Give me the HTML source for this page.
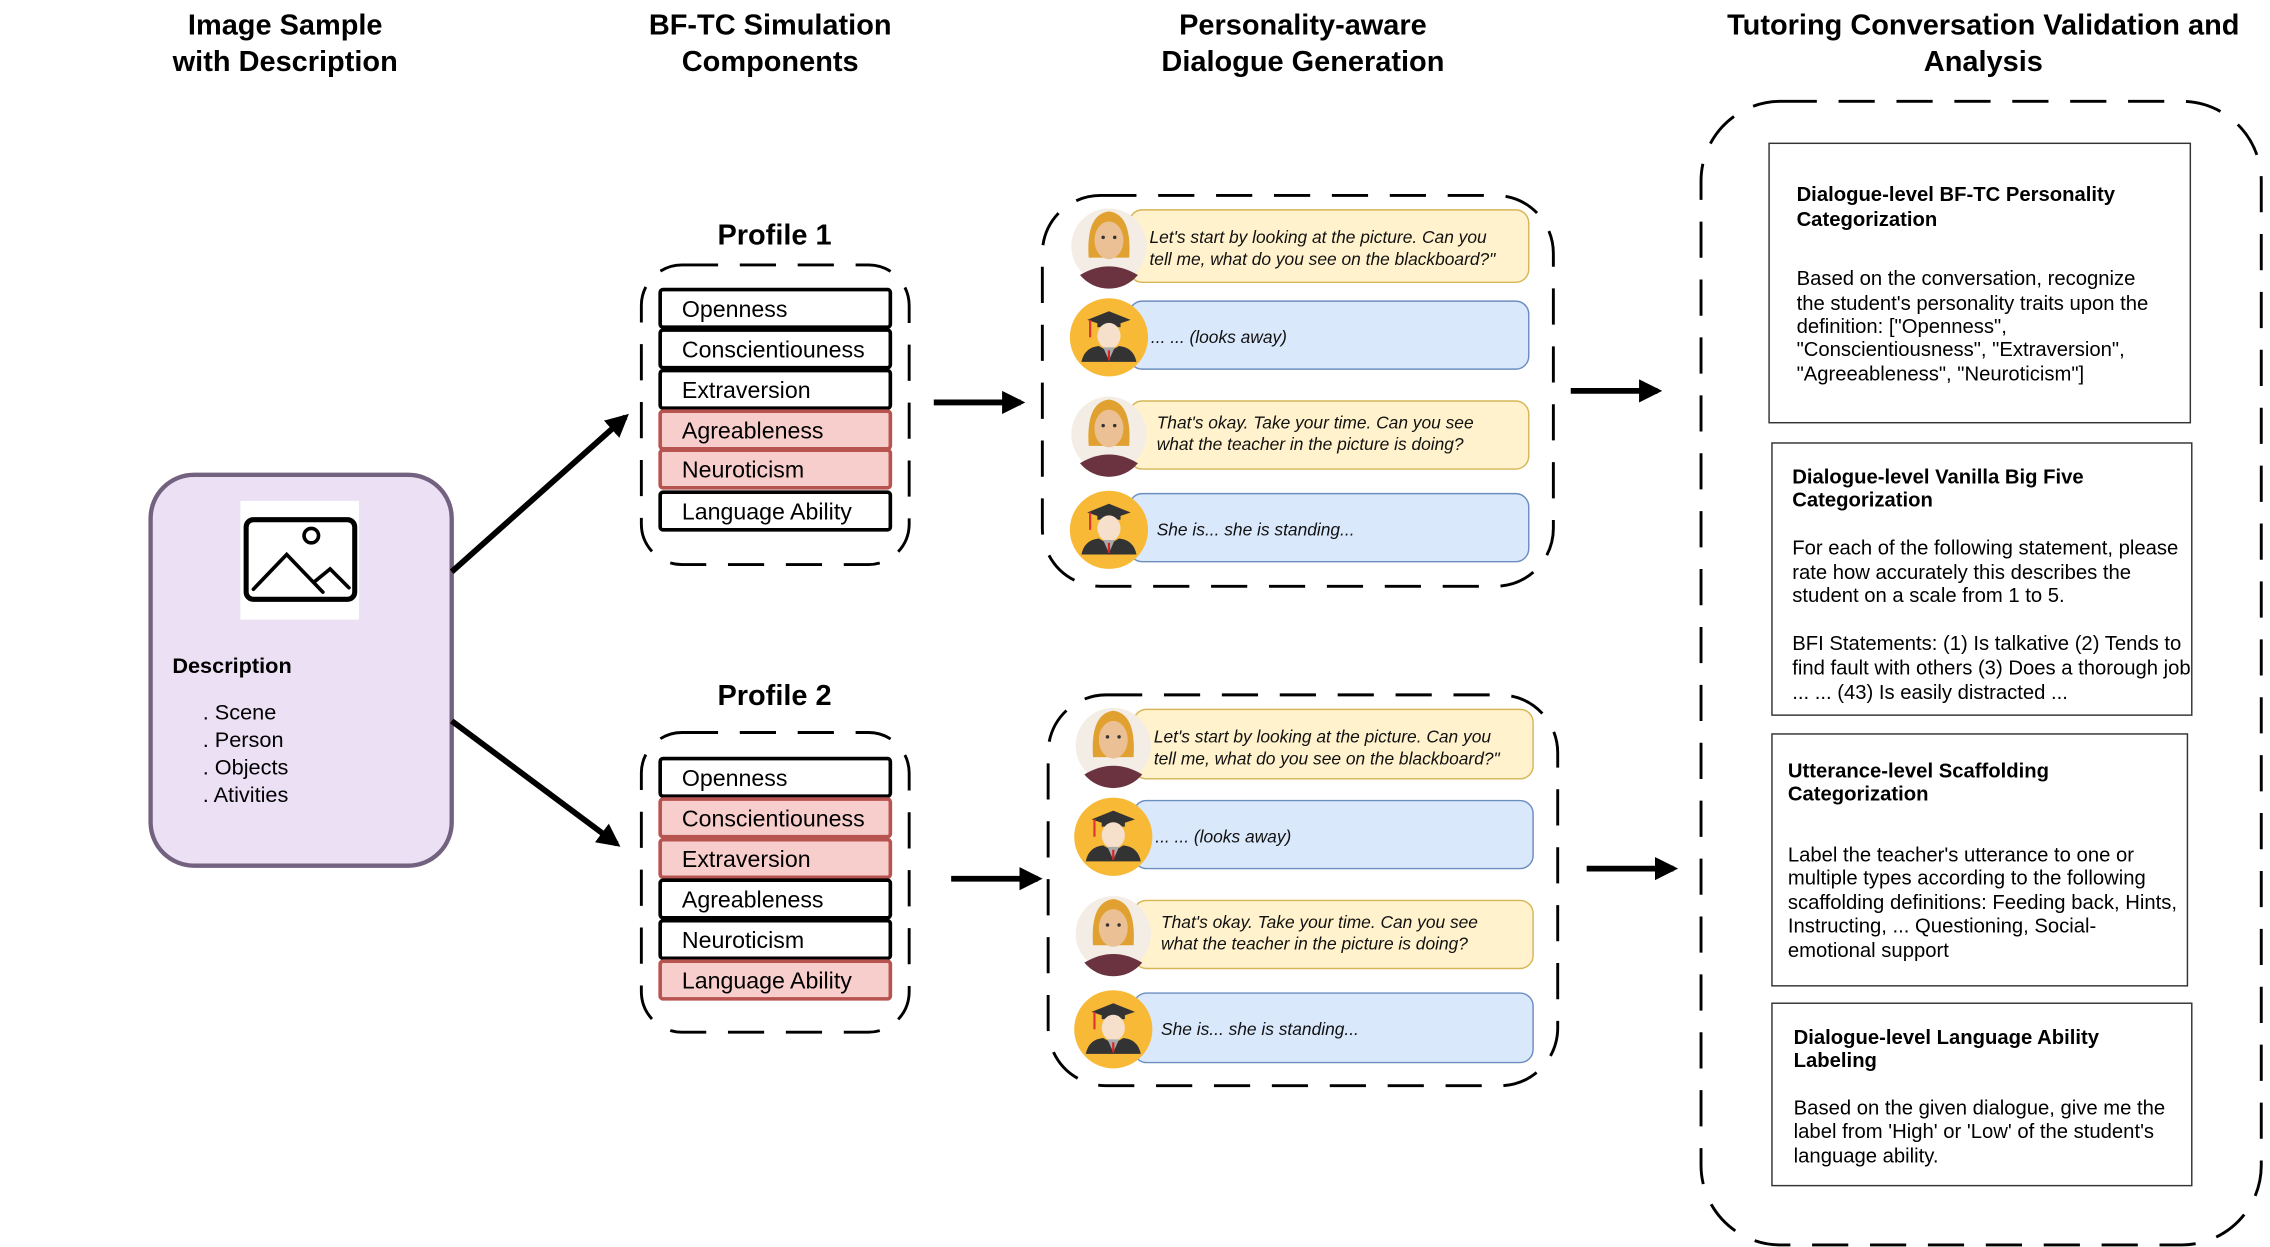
<!DOCTYPE html>
<html><head><meta charset="utf-8"><style>
html,body{margin:0;padding:0;background:#fff;}
svg{display:block;}
text{font-family:"Liberation Sans",Arial,sans-serif;fill:#000;}
.t{font-size:20px;font-weight:bold;text-anchor:middle;}
.row{font-size:16px;}
.d{font-size:12px;font-style:italic;fill:#111;}
.pt{font-size:14px;font-weight:bold;}
.pb{font-size:14px;}
</style></head><body>
<svg width="2270" height="1247" viewBox="0 0 1568 861.4" xmlns="http://www.w3.org/2000/svg">
<defs>
<marker id="ah" viewBox="0 0 10 10" refX="8" refY="5" markerWidth="4" markerHeight="4" orient="auto"><path d="M0,0 L10,5 L0,10 z" fill="#000"/></marker>
<g id="teacher">
<circle cx="0" cy="0" r="26" fill="#f3ede5"/>
<path d="M-14,8 Q-16,-22 0,-24 Q16,-22 14,8 Z" fill="#e0a130"/>
<ellipse cx="0" cy="-4" rx="10" ry="13" fill="#ecc095"/>
<circle cx="-4" cy="-6" r="1.2" fill="#333"/><circle cx="4" cy="-6" r="1.2" fill="#333"/>
<path d="M-20,20 Q0,8 20,20 A26,26 0 0 1 -20,20 Z" fill="#6b3340"/>
</g>
<g id="student">
<circle cx="0" cy="0" r="27" fill="#f8b936"/>
<path d="M-15,-12 L0,-18 L15,-12 L0,-7 Z" fill="#333"/>
<rect x="-8" y="-12" width="16" height="5" fill="#333"/>
<line x1="-13" y1="-12" x2="-13" y2="0" stroke="#d33" stroke-width="1.5"/>
<ellipse cx="0" cy="-1" rx="8" ry="9" fill="#f6e0cc"/>
<path d="M-19,17 Q-17,7 -7,6 L0,10 L7,6 Q17,7 19,17 Z" fill="#333"/>
<path d="M-4,7 L0,16 L4,7 Z" fill="#aaa"/>
<line x1="0" y1="9" x2="0" y2="16" stroke="#d22" stroke-width="1.5"/>
</g>
</defs>

<!-- titles -->
<text class="t" x="197" y="24">Image Sample</text>
<text class="t" x="197" y="49">with Description</text>
<text class="t" x="532" y="24">BF-TC Simulation</text>
<text class="t" x="532" y="49">Components</text>
<text class="t" x="900" y="24">Personality-aware</text>
<text class="t" x="900" y="49">Dialogue Generation</text>
<text class="t" x="1370" y="24">Tutoring Conversation Validation and</text>
<text class="t" x="1370" y="49">Analysis</text>

<!-- image sample box -->
<rect x="104" y="328" width="208" height="270" rx="30" fill="#ece0f4" stroke="#736180" stroke-width="3"/>
<rect x="166" y="346" width="82" height="82" fill="#fff"/>
<rect x="170" y="359" width="75" height="55" rx="5" fill="none" stroke="#000" stroke-width="3.5"/>
<circle cx="215" cy="370" r="5" fill="none" stroke="#000" stroke-width="2.5"/>
<path d="M175,407 L198,383 L223,409 M217,402 L228,393 L241,406" fill="none" stroke="#000" stroke-width="2.5" stroke-linecap="round"/>
<text x="119" y="465" style="font-size:15px;font-weight:bold">Description</text>
<text x="140" y="497" style="font-size:15px">. Scene</text>
<text x="140" y="516" style="font-size:15px">. Person</text>
<text x="140" y="535" style="font-size:15px">. Objects</text>
<text x="140" y="554" style="font-size:15px">. Ativities</text>

<!-- arrows -->
<g stroke="#000" stroke-width="4" fill="none" marker-end="url(#ah)">
<line x1="312" y1="395" x2="432" y2="288"/>
<line x1="312" y1="498" x2="426" y2="583"/>
<line x1="645" y1="278" x2="705" y2="278"/>
<line x1="657" y1="607" x2="717" y2="607"/>
<line x1="1085" y1="270" x2="1145" y2="270"/>
<line x1="1096" y1="600" x2="1156" y2="600"/>
</g>

<!-- profile 1 -->
<text class="t" x="535" y="169">Profile 1</text>
<rect x="443" y="183" width="185" height="207" rx="28" fill="none" stroke="#000" stroke-width="2" stroke-dasharray="25,15"/>
<g stroke-width="2.5">
<rect x="456" y="200" width="159" height="26" rx="2" fill="#fff" stroke="#000"/>
<rect x="456" y="228" width="159" height="26" rx="2" fill="#fff" stroke="#000"/>
<rect x="456" y="256" width="159" height="26" rx="2" fill="#fff" stroke="#000"/>
<rect x="456" y="284" width="159" height="26" rx="2" fill="#f8cecc" stroke="#b85450"/>
<rect x="456" y="311" width="159" height="26" rx="2" fill="#f8cecc" stroke="#b85450"/>
<rect x="456" y="340" width="159" height="26" rx="2" fill="#fff" stroke="#000"/>
</g>
<text class="row" x="471" y="219">Openness</text>
<text class="row" x="471" y="247">Conscientiouness</text>
<text class="row" x="471" y="275">Extraversion</text>
<text class="row" x="471" y="303">Agreableness</text>
<text class="row" x="471" y="330">Neuroticism</text>
<text class="row" x="471" y="359">Language Ability</text>

<!-- profile 2 -->
<text class="t" x="535" y="487">Profile 2</text>
<rect x="443" y="506" width="185" height="207" rx="28" fill="none" stroke="#000" stroke-width="2" stroke-dasharray="25,15"/>
<g stroke-width="2.5">
<rect x="456" y="524" width="159" height="26" rx="2" fill="#fff" stroke="#000"/>
<rect x="456" y="552" width="159" height="26" rx="2" fill="#f8cecc" stroke="#b85450"/>
<rect x="456" y="580" width="159" height="26" rx="2" fill="#f8cecc" stroke="#b85450"/>
<rect x="456" y="608" width="159" height="26" rx="2" fill="#fff" stroke="#000"/>
<rect x="456" y="636" width="159" height="26" rx="2" fill="#fff" stroke="#000"/>
<rect x="456" y="664" width="159" height="26" rx="2" fill="#f8cecc" stroke="#b85450"/>
</g>
<text class="row" x="471" y="543">Openness</text>
<text class="row" x="471" y="571">Conscientiouness</text>
<text class="row" x="471" y="599">Extraversion</text>
<text class="row" x="471" y="627">Agreableness</text>
<text class="row" x="471" y="655">Neuroticism</text>
<text class="row" x="471" y="683">Language Ability</text>

<!-- dialogue 1 -->
<rect x="720" y="135" width="353" height="270" rx="40" fill="none" stroke="#000" stroke-width="2" stroke-dasharray="25,15"/>
<g stroke-width="1">
<rect x="780" y="145" width="276" height="50" rx="9" fill="#fff2cc" stroke="#d6b656"/>
<rect x="780" y="208" width="276" height="47" rx="9" fill="#dae8fc" stroke="#6c8ebf"/>
<rect x="780" y="277" width="276" height="47" rx="9" fill="#fff2cc" stroke="#d6b656"/>
<rect x="780" y="341" width="276" height="47" rx="9" fill="#dae8fc" stroke="#6c8ebf"/>
</g>
<use href="#teacher" x="766" y="170"/>
<use href="#student" x="766" y="233"/>
<use href="#teacher" x="766" y="300"/>
<use href="#student" x="766" y="366"/>
<text class="d" x="794" y="168">Let's start by looking at the picture. Can you</text>
<text class="d" x="794" y="183">tell me, what do you see on the blackboard?"</text>
<text class="d" x="795" y="237">... ... (looks away)</text>
<text class="d" x="799" y="296">That's okay. Take your time. Can you see</text>
<text class="d" x="799" y="311">what the teacher in the picture is doing?</text>
<text class="d" x="799" y="370">She is... she is standing...</text>

<!-- dialogue 2 -->
<rect x="724" y="480" width="352" height="270" rx="40" fill="none" stroke="#000" stroke-width="2" stroke-dasharray="25,15"/>
<g stroke-width="1">
<rect x="783" y="490" width="276" height="48" rx="9" fill="#fff2cc" stroke="#d6b656"/>
<rect x="783" y="553" width="276" height="47" rx="9" fill="#dae8fc" stroke="#6c8ebf"/>
<rect x="783" y="622" width="276" height="47" rx="9" fill="#fff2cc" stroke="#d6b656"/>
<rect x="783" y="686" width="276" height="48" rx="9" fill="#dae8fc" stroke="#6c8ebf"/>
</g>
<use href="#teacher" x="769" y="515"/>
<use href="#student" x="769" y="578"/>
<use href="#teacher" x="769" y="645"/>
<use href="#student" x="769" y="711"/>
<text class="d" x="797" y="513">Let's start by looking at the picture. Can you</text>
<text class="d" x="797" y="528">tell me, what do you see on the blackboard?"</text>
<text class="d" x="798" y="582">... ... (looks away)</text>
<text class="d" x="802" y="641">That's okay. Take your time. Can you see</text>
<text class="d" x="802" y="656">what the teacher in the picture is doing?</text>
<text class="d" x="802" y="715">She is... she is standing...</text>

<!-- right panel -->
<rect x="1175" y="70" width="387" height="790" rx="55" fill="none" stroke="#000" stroke-width="2" stroke-dasharray="25,15"/>
<g fill="#fff" stroke="#333" stroke-width="1">
<rect x="1222" y="99" width="291" height="193"/>
<rect x="1224" y="306" width="290" height="188"/>
<rect x="1224" y="507" width="287" height="174"/>
<rect x="1224" y="693" width="290" height="126"/>
</g>
<text class="pt" x="1241" y="139">Dialogue-level BF-TC Personality</text>
<text class="pt" x="1241" y="156">Categorization</text>
<text class="pb" x="1241" y="197">Based on the conversation, recognize</text>
<text class="pb" x="1241" y="214">the student's personality traits upon the</text>
<text class="pb" x="1241" y="230">definition: ["Openness",</text>
<text class="pb" x="1241" y="246">"Conscientiousness", "Extraversion",</text>
<text class="pb" x="1241" y="263">"Agreeableness", "Neuroticism"]</text>

<text class="pt" x="1238" y="334">Dialogue-level Vanilla Big Five</text>
<text class="pt" x="1238" y="350">Categorization</text>
<text class="pb" x="1238" y="383">For each of the following statement, please</text>
<text class="pb" x="1238" y="400">rate how accurately this describes the</text>
<text class="pb" x="1238" y="416">student on a scale from 1 to 5.</text>
<text class="pb" x="1238" y="449">BFI Statements: (1) Is talkative (2) Tends to</text>
<text class="pb" x="1238" y="466">find fault with others (3) Does a thorough job</text>
<text class="pb" x="1238" y="483">... ... (43) Is easily distracted ...</text>

<text class="pt" x="1235" y="537">Utterance-level Scaffolding</text>
<text class="pt" x="1235" y="553">Categorization</text>
<text class="pb" x="1235" y="595">Label the teacher's utterance to one or</text>
<text class="pb" x="1235" y="611">multiple types according to the following</text>
<text class="pb" x="1235" y="628">scaffolding definitions: Feeding back, Hints,</text>
<text class="pb" x="1235" y="644">Instructing, ... Questioning, Social-</text>
<text class="pb" x="1235" y="661">emotional support</text>

<text class="pt" x="1239" y="721">Dialogue-level Language Ability</text>
<text class="pt" x="1239" y="737">Labeling</text>
<text class="pb" x="1239" y="770">Based on the given dialogue, give me the</text>
<text class="pb" x="1239" y="786">label from 'High' or 'Low' of the student's</text>
<text class="pb" x="1239" y="803">language ability.</text>
</svg>
</body></html>
